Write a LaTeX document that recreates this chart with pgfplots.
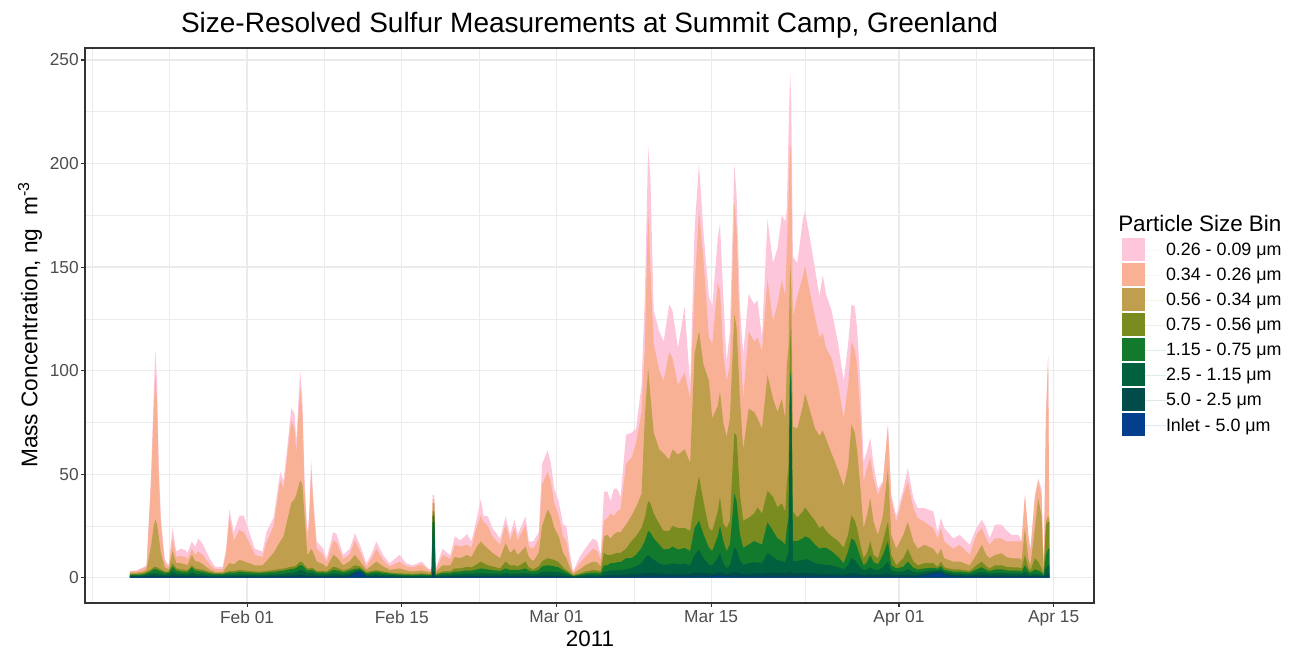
\documentclass[border=0pt]{standalone}
\usepackage{fontspec}
\setmainfont{Liberation Sans}
\usepackage{pgfplots}
\usepackage{pgfplotstable}
\pgfplotsset{compat=1.18}
\definecolor{c026}{HTML}{FEC6DA}
\definecolor{c034}{HTML}{F8B195}
\definecolor{c056}{HTML}{BF9F4D}
\definecolor{c075}{HTML}{7A8B1F}
\definecolor{c115}{HTML}{127A2C}
\definecolor{c25}{HTML}{01603D}
\definecolor{c50}{HTML}{014B4A}
\definecolor{cin}{HTML}{033F8C}
\definecolor{gridc}{HTML}{EBEBEB}
\definecolor{bordc}{HTML}{333333}
\definecolor{tickc}{HTML}{4D4D4D}
% cumulative tops of the stacked layers (ng m^-3), day of year 2011
% P: 0.26-0.09, S: 0.34-0.26, N: 0.56-0.34, O: 0.75-0.56, G1: 1.15-0.75, G2: 2.5-1.15, T5: 5.0-2.5, B: Inlet-5.0
\pgfplotstableread{
d P S N O G1 G2 T5 B
21.4 3.2 3.0 2.4 1.8 1.4 1.0 0.6 0.3
22.0 3.6 3.2 2.5 1.9 1.5 1.0 0.6 0.3
22.6 5.0 4.5 3.0 2.2 1.6 1.1 0.6 0.3
22.9 6.0 5.5 4.0 2.8 2.2 1.5 0.8 0.4
23.3 48 45 15 4.0 3.2 2.0 1.0 0.4
23.55 90 80 25 5.0 4.0 2.2 1.1 0.4
23.7 110 98 28 5.3 4.2 2.1 1.0 0.4
23.85 95 85 26 5.0 4.0 2.0 1.0 0.4
24.0 55 50 20 4.5 3.5 2.0 1.0 0.4
24.2 29 25 12 4.0 3.2 1.8 0.9 0.4
24.55 9 7.5 5 3.0 2.4 1.5 0.8 0.4
24.9 6 5 4 3.0 2.5 1.6 0.8 0.4
25.25 24 19 13 7.0 5.3 3.0 1.3 0.5
25.6 12.6 10 7 4.5 3.5 2.0 1.0 0.4
26.0 14 10.5 7 4.0 3.0 1.8 0.9 0.4
26.4 13.4 10 6.5 3.8 2.8 1.7 0.9 0.4
26.6 12 9 6 3.6 2.7 1.6 0.8 0.4
27.0 17.5 14 11 6.0 4.9 2.6 1.2 0.5
27.3 15 11 8 4.5 3.5 2.0 1.0 0.4
27.6 19 12.6 7.8 4.2 3.2 1.9 0.9 0.4
28.0 16 11 6.5 3.8 2.9 1.7 0.8 0.4
28.6 9.4 6.5 4 2.8 2.2 1.4 0.7 0.3
29.1 5.3 4.2 2.8 2.2 1.8 1.2 0.6 0.3
29.8 5.3 4.2 2.8 2.2 1.8 1.2 0.6 0.3
30.1 14 12 5 2.8 2.2 1.4 0.7 0.3
30.4 33 29 7 3.2 2.5 1.5 0.7 0.3
30.8 22 18 6.5 3.2 2.5 1.5 0.7 0.3
31.3 30 23 8.6 3.7 2.8 1.6 0.8 0.3
31.7 30 22 8 3.5 2.7 1.6 0.8 0.3
32.2 22 17 7 3.2 2.5 1.5 0.7 0.3
32.7 14 11 6 3.0 2.4 1.4 0.7 0.3
33.4 12.6 10 6 3.0 2.4 1.4 0.7 0.3
33.75 22 17 8 3.2 2.5 1.5 0.7 0.3
34.4 29 25 12 3.7 2.8 1.6 0.8 0.3
35.0 51 47 17.5 4.2 3.2 1.8 0.9 0.4
35.3 47 43 20 4.4 3.4 1.9 0.9 0.4
35.6 61 57 27 4.8 3.8 2.1 1.0 0.4
36.0 82 76 36 5.3 4.2 2.4 1.1 0.4
36.3 79 72 38 5.5 4.4 2.5 1.1 0.4
36.45 66 60 40 6.0 4.8 2.8 1.2 0.4
36.8 100 92 47 7.8 6.1 3.7 1.5 0.5
37.0 87 80 45 7.5 5.9 3.5 1.4 0.5
37.2 48 42 30 6.0 4.8 3.0 1.3 0.5
37.45 22 19 11 4.5 3.6 2.2 1.0 0.4
37.6 29 25 12 4.5 3.6 2.2 1.0 0.4
37.8 57 52 14 4.8 3.8 2.3 1.0 0.4
38.0 38 34 12 4.5 3.6 2.2 1.0 0.4
38.3 17.5 14 7.8 3.2 2.6 1.6 0.8 0.3
38.9 14 11 6.5 3.2 2.6 1.6 0.8 0.3
39.2 9.4 7.5 5 3.0 2.4 1.5 0.7 0.3
39.8 22 18 11 5.3 3.7 2.2 1.0 0.4
40.1 21 17 10 5.0 3.6 2.1 1.0 0.4
40.7 11 9 6 3.5 2.7 1.6 0.8 0.3
41.3 14 11.5 8 4.5 3.5 2.2 1.2 0.6
41.75 21.5 18 11 6.0 4.2 3.2 2.5 1.8
42.2 16 13 8 5.5 4.5 3.8 3.3 3.0
42.8 7 5.5 4 2.8 2.2 1.5 0.8 0.4
43.3 12 9.5 6 3.3 2.6 1.6 0.8 0.3
43.7 17.5 14 7.8 3.7 2.9 1.8 0.9 0.3
44.3 11 8.5 5.5 3.0 2.4 1.5 0.7 0.3
44.9 7 5.5 3.8 2.5 2.0 1.3 0.6 0.3
45.8 11 7.8 4.5 2.1 1.6 1.1 0.5 0.2
46.4 7 5.5 3.5 2.0 1.5 1.0 0.5 0.2
47.0 6 5 3 1.9 1.4 0.9 0.5 0.2
47.8 7.8 6.5 3.5 2.1 1.6 1.0 0.5 0.2
48.4 4.5 3.8 2.8 1.8 1.4 0.9 0.5 0.2
48.7 4 3.5 2.6 1.7 1.3 0.9 0.5 0.2
48.8 40 38 36 32 30 27 3 0.5
48.95 40 38 36 32 30 27 3 0.5
49.05 4 3.5 2.6 1.7 1.3 0.9 0.5 0.2
49.3 8 6.5 4 2.3 1.8 1.1 0.5 0.2
49.7 14 11 6 3.0 2.3 1.4 0.7 0.3
50.1 12 10 6 3.2 2.4 1.4 0.7 0.3
50.4 11 9 6 3.2 2.4 1.4 0.7 0.3
50.8 20 16 10 4.5 3.0 1.8 0.8 0.3
51.3 18 15 9.5 4.5 3.0 1.8 0.8 0.3
51.9 21 16 11 5.3 3.5 2.0 0.9 0.3
52.3 17.5 14.5 10 5.0 3.4 2.0 0.9 0.3
52.8 29 25 15 6.5 4.0 2.1 0.9 0.3
53.15 38 30 17.5 7.8 4.5 2.1 0.9 0.3
53.4 30 27 16 7.0 4.3 2.1 0.9 0.3
53.8 29.6 25 14 6.0 4.0 2.0 0.9 0.3
54.2 24 20 12 5.5 3.7 2.0 0.9 0.3
54.9 19 16 9.5 4.5 3.3 1.9 0.9 0.3
55.4 29.6 26 16.7 7.8 4.5 2.2 1.0 0.3
55.8 21 18 12 6.0 3.8 2.0 0.9 0.3
56.2 28 24 14 6.0 3.8 2.0 0.9 0.3
56.5 21 18 11 5.5 3.6 2.0 0.9 0.3
57.2 29.6 25.6 15 7.8 4.5 2.3 1.0 0.3
57.5 17.5 15 10 5.0 3.5 2.0 0.9 0.3
57.9 17.5 14 8 4.0 3.0 1.8 0.8 0.3
58.4 22 19 12 5.5 3.8 2.0 0.9 0.3
58.7 55 45 25 8.0 5.5 2.8 1.1 0.3
59.2 61.5 51 33 9.4 6.0 3.0 1.2 0.4
59.5 55 46 30 9.0 5.8 2.9 1.1 0.3
59.8 43 36 24 8.6 5.5 2.8 1.1 0.3
60.2 37 30 20 7.5 5.0 2.6 1.0 0.3
60.6 25.6 20 12 5.0 3.6 2.0 0.9 0.3
60.9 25 17.5 9.4 3.7 2.8 1.7 0.8 0.3
61.2 12.6 9 5 2.5 1.9 1.2 0.6 0.2
61.5 3 2.5 1.8 1.2 0.9 0.6 0.3 0.1
62.1 10 7 4 2.0 1.5 1.0 0.5 0.2
62.6 14 10 6 3.0 2.1 1.3 0.6 0.2
63.3 19 14 7.8 3.7 2.5 1.5 0.7 0.3
63.7 17.5 13 7.5 3.5 2.4 1.4 0.7 0.3
64.0 11 8.6 5.3 3.0 2.2 1.3 0.6 0.3
64.3 41.5 27.5 20 12 6.0 3.0 1.2 0.4
64.6 41.7 28.8 20.7 11 6.0 3.0 1.2 0.4
64.9 37 31 19 11 7.0 3.5 1.3 0.4
65.2 43 30 21 11.5 7.0 3.5 1.3 0.4
65.5 43 32 22 12 7.5 3.6 1.3 0.4
65.8 39 33 22 12 7.5 3.6 1.3 0.4
66.3 69 55 25.6 14 9.4 4.0 1.5 0.4
66.8 70 58 30 17.7 9.5 4.6 1.6 0.4
67.2 72 65 34 20 11 5.5 1.8 0.4
67.7 93 80 40.6 24 14.4 7.0 2.0 0.5
68.0 136 111 78 29 17.7 9.5 2.3 0.5
68.3 208 178 101 37 22.6 11 2.5 0.5
68.5 193 149 88 36 21.8 10 2.4 0.5
68.8 129 113 70 31 19 8.7 2.2 0.5
69.3 119 100 62 26 16 7.0 2.0 0.5
69.7 114 95 60 22.6 13.6 6.2 1.8 0.5
70.2 132 109 57 22.6 14 6.5 1.8 0.5
70.5 129 106 62 25 15 7.0 1.9 0.5
71.0 111 93 59.5 24 13.6 6.5 1.8 0.5
71.6 131 99 62 24 14.4 6.8 1.9 0.5
72.1 93 86.5 55.4 22.6 12.8 6.0 1.8 0.5
72.5 168 139 108 37 24 11 2.4 0.6
72.9 200 177 119 49 27.5 13.6 2.6 0.6
73.3 167 154 103 37 21 9.5 2.3 0.6
73.8 136 116 95 24 14.4 6.2 1.9 0.6
74.1 131 113 77 22.6 12.8 6.0 1.8 0.7
74.6 164 142 83 32 20 9.5 2.5 1.0
74.8 171 139 90 39 25 12 2.8 1.0
75.1 136 108 75 26 17.7 7.0 2.2 0.8
75.4 104.6 95 68 24 12.8 4.6 1.8 0.6
75.7 119 103 77 27.5 16 6.0 2.0 0.6
76.1 200 182 127.5 70 40.6 14.4 2.8 0.6
76.3 185 168.5 121 68.5 37 13.6 2.7 0.6
76.6 132 116 86.5 40.6 21 8.7 2.2 0.5
76.9 108 86.5 62 27.5 14.4 6.2 1.8 0.5
77.4 137 119 81.6 29 16 7.0 2.0 0.5
77.9 132 114 80 31 17.7 7.5 2.0 0.5
78.2 134 116 77 34 17 7.3 2.0 0.5
78.6 116 109.5 72 31 16 7.0 2.0 0.5
79.1 173 144 98 42 26.7 12 2.5 0.5
79.6 152 124 86.5 39 22.6 10 2.3 0.5
80.0 159 132 80 34 19 8.5 2.2 0.5
80.4 175 144 86.5 36 17.7 8.0 2.2 0.5
80.7 172 136 77 32 16 7.5 2.1 0.5
80.85 178 159 103 45.6 24 10 2.3 0.5
81.0 214 182 111 54 29 12 2.5 0.5
81.15 244 211 152 120 100 93 3.0 0.5
81.25 230 200 140 110 95 88 3.0 0.5
81.4 155 126 73 32 17.7 8.0 2.1 0.5
81.8 152 136 72 29 17.7 8.0 2.1 0.5
82.3 173 145.6 83 32 19 8.5 2.2 0.5
82.5 177 150.5 89 34 20 9.0 2.2 0.5
82.9 165 139 81.6 31 19 8.5 2.2 0.5
83.4 149 126 72 27.5 16 7.0 2.0 0.5
83.8 136 116 68.5 24 14 6.5 1.9 0.5
84.1 146 118 71 25 14.5 6.5 1.9 0.5
84.4 137 111 67 22.6 14.4 6.2 1.8 0.5
84.9 129 106 60 20 12.8 6.0 1.8 0.5
85.5 113 93 52 17.7 10 5.0 1.6 0.5
86.0 95 77 44 14.4 7.0 4.0 1.5 0.5
86.4 113 93 54 21 12.8 6.0 1.8 0.5
86.7 132 114 74 30 19 9.5 2.2 0.5
87.0 131 110 70 27.5 17.7 8.5 2.1 0.5
87.2 121 103 62 24 15 7.0 2.0 0.5
87.5 95 79 44 16 10 5.0 1.6 0.5
87.8 56 46.6 24 9.4 6.0 3.5 1.4 0.4
88.1 61 53 30 11.8 7.5 4.0 1.5 0.4
88.4 67.6 58 38.5 17.5 11 5.0 1.7 0.4
88.7 54.7 48 27 11 7.5 4.0 1.5 0.4
89.1 43 40 20.7 9.4 6.5 3.6 1.4 0.4
89.55 46.6 46 30 17.5 11 5.0 1.7 0.4
90.0 74 73.4 53 27 17.5 7.8 2.0 0.5
90.3 40 38.5 20.7 11 6.0 3.5 1.4 0.4
90.75 30 27 14 6.0 4.5 2.8 1.3 0.4
91.4 43 40 20.7 9.4 5.3 3.0 1.3 0.4
91.8 53 46.6 27 14 7.8 4.2 1.5 0.4
92.3 38.5 33.6 17.5 7.8 4.8 2.8 1.3 0.4
92.7 33.6 28.8 14 6.0 4.0 2.5 1.3 0.5
93.3 33.6 27 15.9 7.0 4.5 3.0 1.8 1.0
94.1 32 24 14 7.0 4.8 3.6 2.6 1.8
94.5 22 19 11 5.3 4.4 3.6 3.0 2.4
94.8 28.8 24 14 7.8 5.5 4.0 3.0 2.4
95.1 24 17.5 9.4 5.0 3.8 2.8 2.0 1.4
95.9 19 14 7.8 4.0 3.0 2.0 1.2 0.6
96.5 20.7 15.9 7.8 4.0 3.0 2.0 1.2 0.6
97.4 15.9 11 6 3.3 2.5 1.7 1.0 0.4
98.0 24 20.7 11 6.0 4.0 2.4 1.2 0.4
98.5 28 24 15.9 7.8 5.0 2.8 1.3 0.4
98.9 24 19 11 5.5 3.8 2.4 1.2 0.4
99.2 19 15.9 9.4 4.5 3.2 2.0 1.0 0.4
99.7 25.6 19 11 6.0 4.0 2.4 1.2 0.4
100.3 25.6 19 11.8 6.0 4.0 2.4 1.2 0.4
100.7 23 17.5 10 5.3 3.6 2.2 1.1 0.4
101.2 20.7 17.5 9.4 5.0 3.4 2.1 1.0 0.4
101.8 20.7 17.5 9.4 5.0 3.4 2.1 1.0 0.4
102.1 17.5 17.5 8.6 4.5 3.0 1.9 0.9 0.3
102.4 40 40 24 11 6.0 3.0 1.2 0.4
102.7 20.7 20.7 9.4 5.0 3.2 1.9 0.9 0.3
102.9 14 12.6 6 3.5 2.5 1.6 0.8 0.3
103.3 40 38.5 24 9.4 4.0 2.0 0.9 0.3
103.6 48 46.6 38.5 7.8 3.5 1.8 0.8 0.3
103.9 43 40 30 4.5 2.5 1.4 0.7 0.3
104.1 4.5 3 2.5 1.8 1.2 0.8 0.4 0.2
104.3 79 77 27 25.6 11 5.0 1.5 0.4
104.5 107 106.5 30 27 14 6.0 1.7 0.4
104.6 30 29 28 27 14 6.0 1.7 0.4
}\sulfur

\begin{document}
\begin{tikzpicture}
\path[use as bounding box] (-63.75pt,-36pt) rectangle (903.75pt,452.25pt);
\begin{axis}[
  at={(0pt,0pt)}, anchor=south west,
  scale only axis, width=756.75pt, height=416.25pt,
  xmin=17.33, xmax=108.65, ymin=-12.2, ymax=255.8,
  xtick={32,46,60,74,91,105},
  xticklabels={Feb 01,Feb 15,Mar 01,Mar 15,Apr 01,Apr 15},
  minor xtick={18,25,39,53,67,82.5,98},
  ytick={0,50,100,150,200,250},
  minor ytick={25,75,125,175,225},
  grid=both,
  major grid style={draw=gridc, line width=0.9pt},
  minor grid style={draw=gridc, line width=0.45pt},
  tick align=outside,
  major tick length=3pt,
  minor tick length=0pt,
  xtick pos=bottom, ytick pos=left,
  tick style={draw=bordc, line width=0.8pt},
  axis line style={draw=bordc, line width=0.8pt},
  ticklabel style={font=\fontsize{13}{15}\selectfont, text=tickc},
  xticklabel style={inner sep=0pt, yshift=-2.5pt},
  yticklabel style={inner sep=0pt, xshift=-1.5pt},
  /pgf/number format/assume math mode=true,
  legend cell align=left,
  legend style={
    at={(1.02775,0.65826)}, anchor=north west,
    draw=none, fill=none, inner sep=0pt, outer sep=0pt,
    row sep=1.5pt, column sep=0pt,
    font=\fontsize{13.4}{15}\selectfont,
    nodes={inner sep=0pt, outer sep=0pt},
  },
  legend image code/.code={\fill[#1] (0pt,-7.575pt) rectangle (17.25pt,9.675pt); \path (0pt,0pt) -- (33pt,0pt);},
]
\addplot[fill=c026, draw=none] table[x=d, y=P]{\sulfur} \closedcycle;
\addlegendentry{0.26 - 0.09 μm}
\addplot[fill=c034, draw=none] table[x=d, y=S]{\sulfur} \closedcycle;
\addlegendentry{0.34 - 0.26 μm}
\addplot[fill=c056, draw=none] table[x=d, y=N]{\sulfur} \closedcycle;
\addlegendentry{0.56 - 0.34 μm}
\addplot[fill=c075, draw=none] table[x=d, y=O]{\sulfur} \closedcycle;
\addlegendentry{0.75 - 0.56 μm}
\addplot[fill=c115, draw=none] table[x=d, y=G1]{\sulfur} \closedcycle;
\addlegendentry{1.15 - 0.75 μm}
\addplot[fill=c25, draw=none] table[x=d, y=G2]{\sulfur} \closedcycle;
\addlegendentry{2.5 - 1.15 μm}
\addplot[fill=c50, draw=none] table[x=d, y=T5]{\sulfur} \closedcycle;
\addlegendentry{5.0 - 2.5 μm}
\addplot[fill=cin, draw=none] table[x=d, y=B]{\sulfur} \closedcycle;
\addlegendentry{Inlet - 5.0 μm}
\end{axis}
\node[anchor=base, font=\fontsize{21}{25}\selectfont] at (378.4pt,427.5pt) {Size-Resolved Sulfur Measurements at Summit Camp, Greenland};
\node[anchor=base, inner sep=0pt, font=\fontsize{16.8}{20}\selectfont] at (378.75pt,-32.8pt) {2011};
\node[rotate=90, anchor=center, font=\fontsize{17}{20}\selectfont] at (-41.25pt,208.5pt) {Mass Concentration, ng\ \ m\textsuperscript{-3}};
\node[anchor=base west, inner sep=0pt, font=\fontsize{16.8}{20}\selectfont] at (774.75pt,278.5pt) {Particle Size Bin};
\end{tikzpicture}
\end{document}
